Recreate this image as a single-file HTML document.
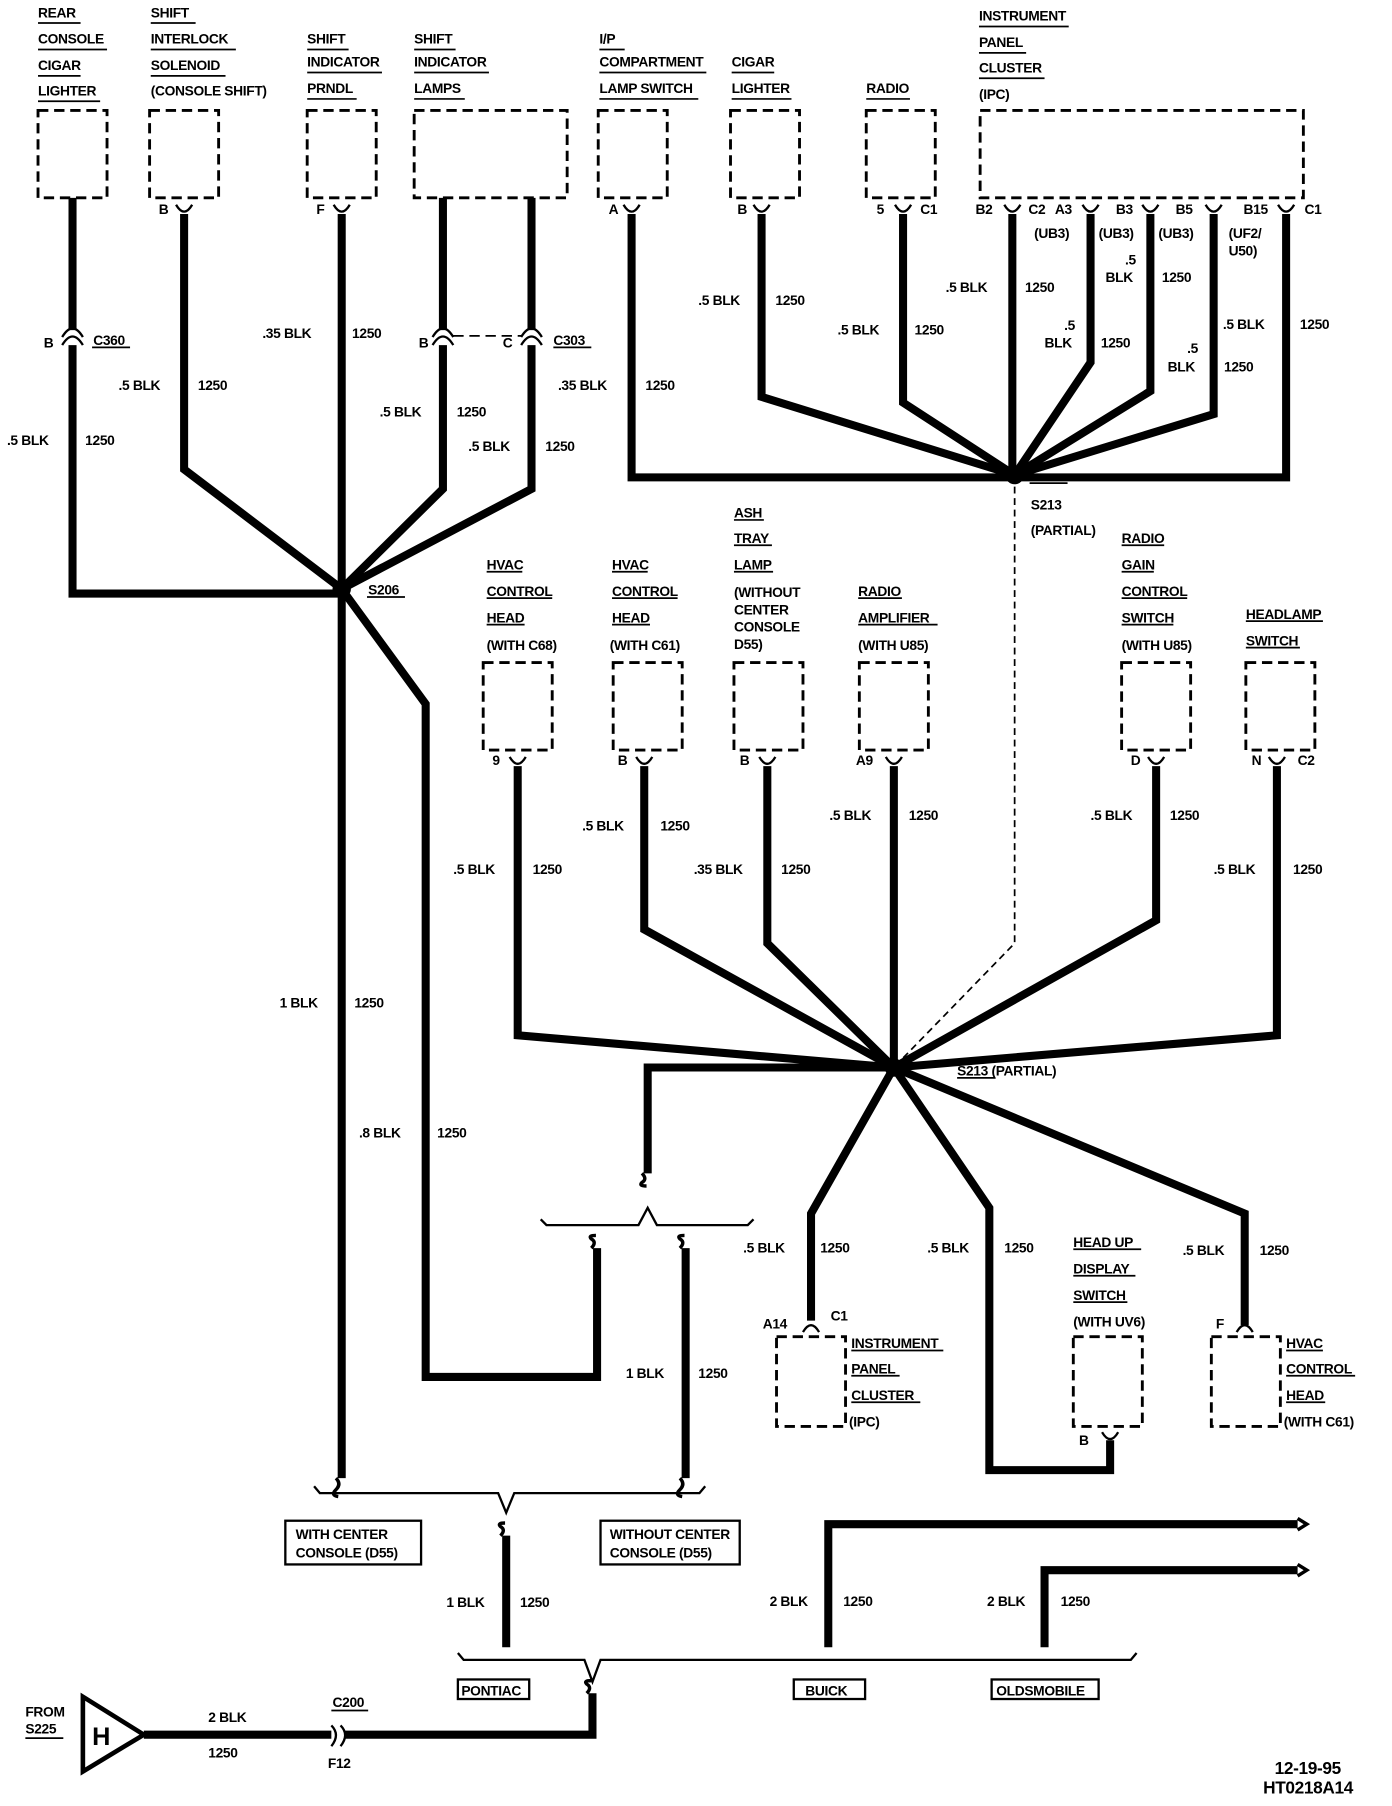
<!DOCTYPE html>
<html><head><meta charset="utf-8"><style>
html,body{margin:0;padding:0;background:#fff}
svg{display:block}
text{font-family:"Liberation Sans",sans-serif;font-size:12px;font-weight:bold;fill:#000;letter-spacing:-0.3px}
.w{stroke:#000;stroke-width:7;fill:none;stroke-linejoin:miter}
.b{stroke:#000;stroke-width:2.5;fill:none;stroke-dasharray:9 5}
.t{stroke:#000;stroke-width:2;fill:none}
.u{stroke:#000;stroke-width:1.5}
</style></head><body>
<svg width="1392" height="1806" viewBox="0 0 1210 1570" xmlns="http://www.w3.org/2000/svg">
<rect class="b" x="33" y="96" width="60" height="76"/>
<rect class="b" x="130" y="96" width="60" height="76"/>
<rect class="b" x="267" y="96" width="60" height="76"/>
<rect class="b" x="360" y="96" width="133" height="76"/>
<rect class="b" x="520" y="96" width="60" height="76"/>
<rect class="b" x="635" y="96" width="60" height="76"/>
<rect class="b" x="753" y="96" width="60" height="76"/>
<rect class="b" x="852" y="96" width="281" height="76"/>
<rect class="b" x="420" y="576" width="60" height="76"/>
<rect class="b" x="533" y="576" width="60" height="76"/>
<rect class="b" x="638" y="576" width="60" height="76"/>
<rect class="b" x="747" y="576" width="60" height="76"/>
<rect class="b" x="975" y="576" width="60" height="76"/>
<rect class="b" x="1083" y="576" width="60" height="76"/>
<rect class="b" x="675" y="1162" width="60" height="78"/>
<rect class="b" x="933" y="1162" width="60" height="78"/>
<rect class="b" x="1053" y="1162" width="60" height="78"/>
<g class="t">
<path d="M153,178 Q160,190 167,178"/><path d="M290,178 Q297,190 304,178"/>
<path d="M542,178 Q549,190 556,178"/><path d="M655,178 Q662,190 669,178"/>
<path d="M778,178 Q785,190 792,178"/><path d="M873,178 Q880,190 887,178"/>
<path d="M941,178 Q948,190 955,178"/><path d="M993,178 Q1000,190 1007,178"/>
<path d="M1048,178 Q1055,190 1062,178"/><path d="M1111,178 Q1118,190 1125,178"/>
<path d="M443,658 Q450,670 457,658"/><path d="M553,658 Q560,670 567,658"/>
<path d="M660,658 Q667,670 674,658"/><path d="M770,658 Q777,670 784,658"/>
<path d="M998,658 Q1005,670 1012,658"/><path d="M1103,658 Q1110,670 1117,658"/>
<path d="M698,1158 Q705,1146 712,1158"/><path d="M1075,1158 Q1082,1146 1089,1158"/>
<path d="M958,1245 Q965,1257 972,1245"/>
<path d="M54,300 Q63,285 72,300"/><path d="M54,293 Q63,278 72,293"/>
<path d="M376,300 Q385,285 394,300"/><path d="M376,293 Q385,278 394,293"/>
<path d="M453,300 Q462,285 471,300"/><path d="M453,293 Q462,278 471,293"/>
<path d="M288,1500 Q296,1508 288,1518"/><path d="M296,1500 Q304,1508 296,1518"/>
</g>
<line x1="394" y1="292" x2="453" y2="292" class="b" style="stroke-width:1.5"/>
<g class="w">
<path d="M63,172 V287 M63,300 V516 H297"/>
<path d="M160,186 V408 L297,512"/>
<path d="M297,186 V1285"/>
<path d="M385,172 V287 M385,300 V425 L297,512"/>
<path d="M462,172 V287 M462,300 V425 L297,512"/>
<path d="M297,512 L370,612 V1197 H519 V1085"/>
<path d="M596,1085 V1285"/>
<path d="M549,186 V415 H882"/>
<path d="M662,186 V345 L882,413"/>
<path d="M785,186 V350 L882,413"/>
<path d="M880,186 V413"/>
<path d="M948,186 V315 L882,413"/>
<path d="M1000,186 V340 L882,413"/>
<path d="M1055,186 V360 L882,413"/>
<path d="M1118,186 V415 H882"/>
<path d="M450,666 V900 L777,928"/>
<path d="M560,666 V808 L777,928"/>
<path d="M667,666 V820 L777,928"/>
<path d="M777,666 V928"/>
<path d="M1005,666 V800 L777,928"/>
<path d="M1110,666 V900 L777,928"/>
<path d="M777,928 H563 V1020"/>
<path d="M777,928 L705,1055 V1148"/>
<path d="M777,928 L860,1050 V1278 H965 V1252"/>
<path d="M777,928 L1082,1055 V1152"/>
<path d="M440,1335 V1432"/>
<path d="M720,1432 V1325 H1128"/>
<path d="M908,1432 V1365 H1128"/>
<path d="M515,1472 V1508 H300 M288,1508 H125"/>
</g>
<g class="t" style="stroke-width:3">
<path d="M292,1285 q5,5 0,10 q-5,5 2,6"/><path d="M591,1285 q5,5 0,10 q-5,5 2,6"/>
<path d="M514,1085 q5,-5 0,-8 q-3,-3 4,-3"/><path d="M591,1085 q5,-5 0,-8 q-3,-3 4,-3"/>
<path d="M558,1020 q5,5 0,8 q-3,3 4,3"/>
<path d="M435,1335 q5,-5 0,-8 q-3,-3 4,-3"/>
<path d="M510,1472 q5,-5 0,-8 q-3,-3 4,-3"/>
<path d="M1128,1320 l8,5 l-8,5"/><path d="M1128,1360 l8,5 l-8,5"/>
</g>
<path class="t" d="M470,1060 L475,1065 H555 L563,1050 L571,1065 H650 L655,1060"/>
<path class="t" d="M273,1292 L278,1298 H433 L440,1315 L447,1298 H608 L613,1292"/>
<path class="t" d="M398,1437 L403,1443 H508 L515,1462 L522,1443 H983 L988,1437"/>
<path d="M882,413 V820 L777,928" stroke="#000" stroke-width="1.5" fill="none" stroke-dasharray="6 4"/>
<circle cx="297" cy="512" r="8"/><circle cx="882" cy="413" r="8"/><circle cx="777" cy="928" r="8"/>
<polygon points="72,1475 72,1540 125,1508" fill="#fff" stroke="#000" stroke-width="4"/>
<text x="80" y="1517" style="font-size:22px">H</text>
<g class="t">
<rect x="248" y="1322" width="118" height="38"/><rect x="522" y="1322" width="121" height="38"/>
<rect x="398" y="1460" width="62" height="17"/><rect x="690" y="1460" width="62" height="17"/><rect x="862" y="1460" width="93" height="17"/>
</g>
<text x="257" y="1338">WITH CENTER</text><text x="257" y="1354">CONSOLE (D55)</text>
<text x="530" y="1338">WITHOUT CENTER</text><text x="530" y="1354">CONSOLE (D55)</text>
<text x="401" y="1474">PONTIAC</text><text x="700" y="1474">BUICK</text><text x="866" y="1474">OLDSMOBILE</text>
<text x="33" y="15">REAR</text><text x="33" y="38">CONSOLE</text><text x="33" y="61">CIGAR</text><text x="33" y="83">LIGHTER</text>
<text x="131" y="15">SHIFT</text><text x="131" y="38">INTERLOCK</text><text x="131" y="61">SOLENOID</text><text x="131" y="83">(CONSOLE SHIFT)</text>
<text x="267" y="38">SHIFT</text><text x="267" y="58">INDICATOR</text><text x="267" y="81">PRNDL</text>
<text x="360" y="38">SHIFT</text><text x="360" y="58">INDICATOR</text><text x="360" y="81">LAMPS</text>
<text x="521" y="38">I/P</text><text x="521" y="58">COMPARTMENT</text><text x="521" y="81">LAMP SWITCH</text>
<text x="636" y="58">CIGAR</text><text x="636" y="81">LIGHTER</text>
<text x="753" y="81">RADIO</text>
<text x="851" y="18">INSTRUMENT</text><text x="851" y="41">PANEL</text><text x="851" y="63">CLUSTER</text><text x="851" y="86">(IPC)</text>
<g class="u">
<line x1="33" y1="20" x2="70" y2="20"/><line x1="33" y1="43" x2="93" y2="43"/><line x1="33" y1="66" x2="70" y2="66"/><line x1="33" y1="88" x2="87" y2="88"/>
<line x1="131" y1="20" x2="170" y2="20"/><line x1="131" y1="43" x2="205" y2="43"/><line x1="131" y1="66" x2="196" y2="66"/>
<line x1="267" y1="43" x2="303" y2="43"/><line x1="267" y1="63" x2="332" y2="63"/><line x1="267" y1="86" x2="310" y2="86"/>
<line x1="360" y1="43" x2="396" y2="43"/><line x1="360" y1="63" x2="425" y2="63"/><line x1="360" y1="86" x2="404" y2="86"/>
<line x1="521" y1="43" x2="543" y2="43"/><line x1="521" y1="63" x2="614" y2="63"/><line x1="521" y1="86" x2="607" y2="86"/>
<line x1="636" y1="63" x2="673" y2="63"/><line x1="636" y1="86" x2="688" y2="86"/><line x1="753" y1="86" x2="791" y2="86"/>
<line x1="851" y1="23" x2="929" y2="23"/><line x1="851" y1="46" x2="892" y2="46"/><line x1="851" y1="68" x2="908" y2="68"/>
<line x1="80" y1="302" x2="113" y2="302"/><line x1="481" y1="302" x2="514" y2="302"/>
<line x1="319" y1="519" x2="352" y2="519"/><line x1="895" y1="420" x2="928" y2="420"/><line x1="832" y1="937" x2="865" y2="937"/>
<line x1="423" y1="497" x2="454" y2="497"/><line x1="423" y1="520" x2="480" y2="520"/><line x1="423" y1="543" x2="456" y2="543"/>
<line x1="532" y1="497" x2="563" y2="497"/><line x1="532" y1="520" x2="589" y2="520"/><line x1="532" y1="543" x2="565" y2="543"/>
<line x1="638" y1="452" x2="664" y2="452"/><line x1="638" y1="474" x2="671" y2="474"/><line x1="638" y1="497" x2="672" y2="497"/>
<line x1="746" y1="520" x2="784" y2="520"/><line x1="746" y1="543" x2="815" y2="543"/>
<line x1="975" y1="474" x2="1012" y2="474"/><line x1="975" y1="497" x2="1003" y2="497"/><line x1="975" y1="520" x2="1032" y2="520"/><line x1="975" y1="543" x2="1020" y2="543"/>
<line x1="1083" y1="540" x2="1150" y2="540"/><line x1="1083" y1="563" x2="1130" y2="563"/>
<line x1="933" y1="1086" x2="992" y2="1086"/><line x1="933" y1="1109" x2="987" y2="1109"/><line x1="933" y1="1132" x2="980" y2="1132"/>
<line x1="740" y1="1174" x2="820" y2="1174"/><line x1="740" y1="1196" x2="782" y2="1196"/><line x1="740" y1="1219" x2="800" y2="1219"/>
<line x1="1118" y1="1174" x2="1150" y2="1174"/><line x1="1118" y1="1196" x2="1178" y2="1196"/><line x1="1118" y1="1219" x2="1152" y2="1219"/>
<line x1="22" y1="1511" x2="55" y2="1511"/><line x1="288" y1="1487" x2="320" y2="1487"/>
</g>
<text x="138" y="186">B</text><text x="275" y="186">F</text><text x="529" y="186">A</text><text x="641" y="186">B</text>
<text x="762" y="186">5</text><text x="800" y="186">C1</text><text x="848" y="186">B2</text><text x="894" y="186">C2</text>
<text x="917" y="186">A3</text><text x="970" y="186">B3</text><text x="1022" y="186">B5</text><text x="1081" y="186">B15</text><text x="1134" y="186">C1</text>
<text x="899" y="207">(UB3)</text><text x="955" y="207">(UB3)</text><text x="1007" y="207">(UB3)</text><text x="1068" y="207">(UF2/</text><text x="1068" y="222">U50)</text>
<text x="38" y="302">B</text><text x="81" y="300">C360</text><text x="364" y="302">B</text><text x="437" y="302">C</text><text x="481" y="300">C303</text>
<text x="320" y="517">S206</text><text x="896" y="443">S213</text><text x="896" y="465">(PARTIAL)</text>
<text x="832" y="935">S213 (PARTIAL)</text>
<text x="428" y="665">9</text><text x="537" y="665">B</text><text x="643" y="665">B</text><text x="744" y="665">A9</text><text x="983" y="665">D</text><text x="1088" y="665">N</text><text x="1128" y="665">C2</text>
<text x="663" y="1155">A14</text><text x="722" y="1148">C1</text><text x="1057" y="1155">F</text><text x="938" y="1256">B</text>
<text x="423" y="495">HVAC</text><text x="423" y="518">CONTROL</text><text x="423" y="541">HEAD</text><text x="423" y="565">(WITH C68)</text>
<text x="532" y="495">HVAC</text><text x="532" y="518">CONTROL</text><text x="532" y="541">HEAD</text><text x="530" y="565">(WITH C61)</text>
<text x="638" y="450">ASH</text><text x="638" y="472">TRAY</text><text x="638" y="495">LAMP</text><text x="638" y="519">(WITHOUT</text><text x="638" y="534">CENTER</text><text x="638" y="549">CONSOLE</text><text x="638" y="564">D55)</text>
<text x="746" y="518">RADIO</text><text x="746" y="541">AMPLIFIER</text><text x="746" y="565">(WITH U85)</text>
<text x="975" y="472">RADIO</text><text x="975" y="495">GAIN</text><text x="975" y="518">CONTROL</text><text x="975" y="541">SWITCH</text><text x="975" y="565">(WITH U85)</text>
<text x="1083" y="538">HEADLAMP</text><text x="1083" y="561">SWITCH</text>
<text x="933" y="1084">HEAD UP</text><text x="933" y="1107">DISPLAY</text><text x="933" y="1130">SWITCH</text><text x="933" y="1153">(WITH UV6)</text>
<text x="740" y="1172">INSTRUMENT</text><text x="740" y="1194">PANEL</text><text x="740" y="1217">CLUSTER</text><text x="738" y="1240">(IPC)</text>
<text x="1118" y="1172">HVAC</text><text x="1118" y="1194">CONTROL</text><text x="1118" y="1217">HEAD</text><text x="1116" y="1240">(WITH C61)</text>
<text x="6" y="387">.5 BLK</text><text x="74" y="387">1250</text>
<text x="103" y="339">.5 BLK</text><text x="172" y="339">1250</text>
<text x="228" y="294">.35 BLK</text><text x="306" y="294">1250</text>
<text x="330" y="362">.5 BLK</text><text x="397" y="362">1250</text>
<text x="407" y="392">.5 BLK</text><text x="474" y="392">1250</text>
<text x="485" y="339">.35 BLK</text><text x="561" y="339">1250</text>
<text x="607" y="265">.5 BLK</text><text x="674" y="265">1250</text>
<text x="728" y="291">.5 BLK</text><text x="795" y="291">1250</text>
<text x="822" y="254">.5 BLK</text><text x="891" y="254">1250</text>
<text x="978" y="230">.5</text><text x="961" y="245">BLK</text><text x="1010" y="245">1250</text>
<text x="925" y="287">.5</text><text x="908" y="302">BLK</text><text x="957" y="302">1250</text>
<text x="1032" y="307">.5</text><text x="1015" y="323">BLK</text><text x="1064" y="323">1250</text>
<text x="1063" y="286">.5 BLK</text><text x="1130" y="286">1250</text>
<text x="394" y="760">.5 BLK</text><text x="463" y="760">1250</text>
<text x="506" y="722">.5 BLK</text><text x="574" y="722">1250</text>
<text x="603" y="760">.35 BLK</text><text x="679" y="760">1250</text>
<text x="721" y="713">.5 BLK</text><text x="790" y="713">1250</text>
<text x="948" y="713">.5 BLK</text><text x="1017" y="713">1250</text>
<text x="1055" y="760">.5 BLK</text><text x="1124" y="760">1250</text>
<text x="243" y="876">1 BLK</text><text x="308" y="876">1250</text>
<text x="312" y="989">.8 BLK</text><text x="380" y="989">1250</text>
<text x="544" y="1198">1 BLK</text><text x="607" y="1198">1250</text>
<text x="646" y="1089">.5 BLK</text><text x="713" y="1089">1250</text>
<text x="806" y="1089">.5 BLK</text><text x="873" y="1089">1250</text>
<text x="1028" y="1091">.5 BLK</text><text x="1095" y="1091">1250</text>
<text x="388" y="1397">1 BLK</text><text x="452" y="1397">1250</text>
<text x="669" y="1396">2 BLK</text><text x="733" y="1396">1250</text>
<text x="858" y="1396">2 BLK</text><text x="922" y="1396">1250</text>
<text x="181" y="1497">2 BLK</text><text x="181" y="1528">1250</text>
<text x="289" y="1484">C200</text><text x="285" y="1537">F12</text>
<text x="22" y="1492">FROM</text><text x="22" y="1507">S225</text>
<text x="1108" y="1542" style="font-size:15px">12-19-95</text><text x="1098" y="1559" style="font-size:15px">HT0218A14</text>
</svg>
</body></html>
